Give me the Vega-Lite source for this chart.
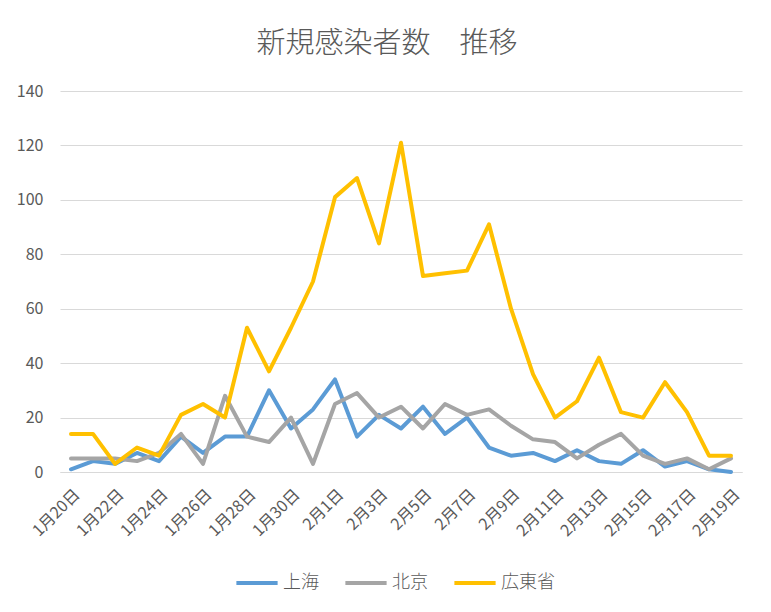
{
  "$schema": "https://vega.github.io/schema/vega-lite/v6.json",
  "width": 682,
  "height": 381,
  "autosize": "none",
  "padding": {"left": 60, "top": 91, "right": 29, "bottom": 140},
  "background": "white",
  "title": {"text": "新規感染者数　推移", "fontSize": 29, "font": "Noto Sans CJK JP", "fontWeight": 300, "color": "#595959", "offset": 24, "dx": -14},
  "data": {"values": [
    {"d": "1月20日", "上海": 1, "北京": 5, "広東省": 14},
    {"d": "1月21日", "上海": 4, "北京": 5, "広東省": 14},
    {"d": "1月22日", "上海": 3, "北京": 5, "広東省": 3},
    {"d": "1月23日", "上海": 7, "北京": 4, "広東省": 9},
    {"d": "1月24日", "上海": 4, "北京": 7, "広東省": 6},
    {"d": "1月25日", "上海": 13, "北京": 14, "広東省": 21},
    {"d": "1月26日", "上海": 7, "北京": 3, "広東省": 25},
    {"d": "1月27日", "上海": 13, "北京": 28, "広東省": 20},
    {"d": "1月28日", "上海": 13, "北京": 13, "広東省": 53},
    {"d": "1月29日", "上海": 30, "北京": 11, "広東省": 37},
    {"d": "1月30日", "上海": 16, "北京": 20, "広東省": 53},
    {"d": "1月31日", "上海": 23, "北京": 3, "広東省": 70},
    {"d": "2月1日", "上海": 34, "北京": 25, "広東省": 101},
    {"d": "2月2日", "上海": 13, "北京": 29, "広東省": 108},
    {"d": "2月3日", "上海": 21, "北京": 20, "広東省": 84},
    {"d": "2月4日", "上海": 16, "北京": 24, "広東省": 121},
    {"d": "2月5日", "上海": 24, "北京": 16, "広東省": 72},
    {"d": "2月6日", "上海": 14, "北京": 25, "広東省": 73},
    {"d": "2月7日", "上海": 20, "北京": 21, "広東省": 74},
    {"d": "2月8日", "上海": 9, "北京": 23, "広東省": 91},
    {"d": "2月9日", "上海": 6, "北京": 17, "広東省": 60},
    {"d": "2月10日", "上海": 7, "北京": 12, "広東省": 36},
    {"d": "2月11日", "上海": 4, "北京": 11, "広東省": 20},
    {"d": "2月12日", "上海": 8, "北京": 5, "広東省": 26},
    {"d": "2月13日", "上海": 4, "北京": 10, "広東省": 42},
    {"d": "2月14日", "上海": 3, "北京": 14, "広東省": 22},
    {"d": "2月15日", "上海": 8, "北京": 6, "広東省": 20},
    {"d": "2月16日", "上海": 2, "北京": 3, "広東省": 33},
    {"d": "2月17日", "上海": 4, "北京": 5, "広東省": 22},
    {"d": "2月18日", "上海": 1, "北京": 1, "広東省": 6},
    {"d": "2月19日", "上海": 0, "北京": 5, "広東省": 6}
  ]},
  "transform": [{"fold": ["上海", "北京", "広東省"], "as": ["series", "value"]}],
  "mark": {"type": "line", "strokeWidth": 4, "strokeCap": "round", "strokeJoin": "round"},
  "encoding": {
    "x": {
      "field": "d", "type": "ordinal", "sort": null,
      "scale": {"type": "point", "padding": 0.5},
      "axis": {
        "title": null,
        "values": ["1月20日","1月22日","1月24日","1月26日","1月28日","1月30日","2月1日","2月3日","2月5日","2月7日","2月9日","2月11日","2月13日","2月15日","2月17日","2月19日"],
        "labelAngle": -45, "labelFont": "Noto Sans CJK JP", "labelFontSize": 16, "labelColor": "#595959",
        "ticks": false, "domainColor": "#d9d9d9", "domainWidth": 1, "labelPadding": 14, "grid": false
      }
    },
    "y": {
      "field": "value", "type": "quantitative",
      "scale": {"domain": [0, 140], "nice": false},
      "axis": {
        "title": null, "values": [0,20,40,60,80,100,120,140],
        "domain": false, "ticks": false, "gridColor": "#d9d9d9", "gridWidth": 1,
        "labelFont": "Noto Sans CJK JP", "labelFontSize": 16, "labelColor": "#595959", "labelPadding": 17
      }
    },
    "color": {
      "field": "series", "type": "nominal",
      "scale": {"domain": ["上海", "北京", "広東省"], "range": ["#5B9BD5", "#A5A5A5", "#FFC000"]},
      "legend": {
        "title": null, "orient": "none", "direction": "horizontal",
        "legendX": 174, "legendY": 469,
        "symbolType": "stroke", "symbolStrokeWidth": 4, "symbolSize": 1700,
        "labelFont": "Noto Sans CJK JP", "labelFontSize": 18, "labelFontWeight": 300, "labelColor": "#595959",
        "columnPadding": 18, "labelOffset": 3
      }
    }
  },
  "config": {"view": {"stroke": null}}
}
